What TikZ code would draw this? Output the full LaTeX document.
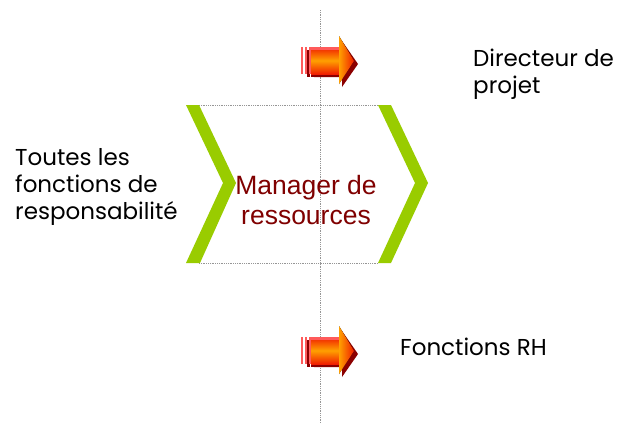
\documentclass[tikz,border=0pt]{standalone}
\usepackage{fontspec}
\setmainfont{Poppins}
\newfontfamily\arialfont{Liberation Sans}
\definecolor{chevgreen}{RGB}{153,204,0}
\definecolor{mgrred}{RGB}{128,0,0}
\definecolor{dotgray}{RGB}{150,150,150}
\definecolor{arrpink}{RGB}{255,90,90}
\definecolor{arrshadow}{RGB}{140,0,0}
\definecolor{arrorange}{RGB}{255,160,0}
\definecolor{arrred}{RGB}{240,30,0}
\tikzset{
  chevron/.style={fill=chevgreen, draw=none},
  guide/.style={draw=dotgray, densely dotted, line width=0.8pt},
  lbl/.style={font=\fontsize{23}{27}\selectfont, text=black, align=left, inner sep=0pt},
  mgr/.style={font=\arialfont\fontsize{26.5}{30}\selectfont, text=mgrred, align=center, inner sep=0pt},
  stripe/.style={fill=arrpink, draw=none},
  shadowpart/.style={fill=arrshadow, draw=none},
  shaftpart/.style={draw=none, top color=arrred, bottom color=arrred, middle color=arrorange},
  headpart/.style={draw=none, left color=arrorange, right color=arrred},
}
\newcommand{\fatarrow}[3]{%
  % #1 = x of stripes start, #2 = center y, #3 = name
  \begin{scope}[shift={(#1,#2)}]
    \coordinate (#3) at (0,0);
    % shadow
    \fill[shadowpart] (6,-11) rectangle (9,16);
    \fill[shadowpart] (10,-11) rectangle (13,16);
    \fill[shadowpart] (13,-9) -- (41,-9) -- (41,-20) -- (57,3) -- (41,26) -- (41,16) -- (13,16) -- cycle;
    % stripes
    \fill[stripe] (0,-14) rectangle (2,13);
    \fill[stripe] (4,-14) rectangle (6,13);
    \fill[stripe] (8,-14) rectangle (10,13);
    % shaft
    \fill[shaftpart] (10,-14) rectangle (39,13);
    \fill[arrpink] (10,-14) rectangle (39,-11);
    % head
    \fill[headpart] (38,-25) -- (53,0) -- (38,23) -- cycle;
  \end{scope}}
\begin{document}
\begin{tikzpicture}[x=1pt,y=-1pt]
  \useasboundingbox[fill=white] (0,0) rectangle (617,423);
  % vertical dotted guide
  \coordinate (vtop) at (320,10);
  \coordinate (vbot) at (320,423);
  \draw[guide] (vtop) -- (vbot);
  % horizontal dotted guides
  \coordinate (tl) at (199,105);
  \coordinate (tr) at (378,105);
  \coordinate (bl) at (199,263);
  \coordinate (br) at (378,263);
  \draw[guide] (tl) -- (tr);
  \draw[guide] (bl) -- (br);
  % chevrons
  \fill[chevron] (186,105) -- (199,105) -- (236,183) -- (200,263) -- (186,263) -- (223,183) -- cycle;
  \fill[chevron] (378,105) -- (391,105) -- (428,183) -- (391,263) -- (378,263) -- (415,183) -- cycle;
  % arrows
  \fatarrow{301}{61}{arrtop}
  \fatarrow{301}{351}{arrbot}
  % texts
  \node[mgr] (manager) at (306,200) {Manager de\\ressources};
  \node[lbl, anchor=west] (toutes) at (15,187) {Toutes les\\fonctions de\\responsabilité};
  \node[lbl, anchor=west] (directeur) at (473,74) {Directeur de\\projet};
  \node[lbl, anchor=west] (rh) at (400,347) {Fonctions RH};
\end{tikzpicture}
\end{document}
